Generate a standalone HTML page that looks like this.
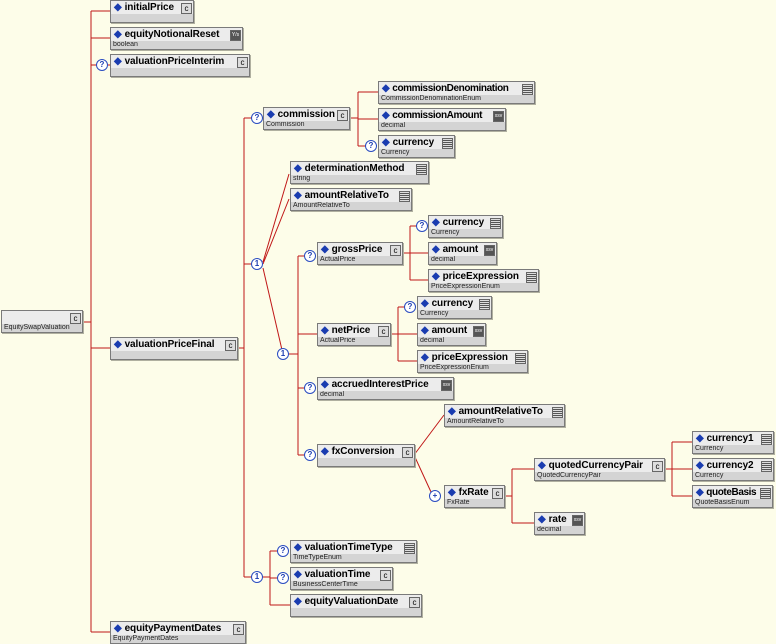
<!DOCTYPE html>
<html><head><meta charset="utf-8"><style>
body{margin:0;width:776px;height:644px;background:#fdfde9;position:relative;overflow:hidden;font-family:"Liberation Sans",sans-serif}
svg{position:absolute;left:0;top:0}
.b{position:absolute;height:21px;border:1px solid #7a7a7a;box-shadow:1px 1px 0 #b0b0a0;background:#d4d4d4}
.h{position:relative;height:13px;background:#ececec;font-weight:bold;font-size:10px;line-height:13px;white-space:nowrap;padding-left:3px;color:#000;overflow:hidden;letter-spacing:-0.1px}
.h:before{content:"\25C6";color:#1a3cb0;font-size:10px;margin-right:3px}
.r .h:before{content:"";margin:0}
.t{font-size:7px;line-height:8px;padding-left:2px;color:#222;white-space:nowrap}
.i{position:absolute;right:1px;top:2px;width:9px;height:9px;border:1px solid #666;background:#ddd;font-size:8px;line-height:9px;text-align:center;font-weight:normal;letter-spacing:0}
.e{background:repeating-linear-gradient(#ddd 0 1px,#555 1px 2px)}
.d{background:#555;color:#fff;font-size:5px}
.q{position:absolute;width:10px;height:10px;border:1px solid #2a4cc0;border-radius:50%;background:#fff;color:#1a3cb0;font-size:8px;line-height:10px;text-align:center;font-weight:bold}
</style></head><body>
<svg width="776" height="644" stroke="#c01818" stroke-width="1" fill="none">
<path d="M82 322H91M91 11V632M91 11H110M91 38H110M91 65H110M91 348H110M91 632H110"/>
<path d="M237 348H244M244 118V577M244 118H252M244 264H252M244 577H252"/>
<path d="M349 118H358M358 92V146M358 92H378M358 119H378M358 146H366"/>
<path d="M263 262L289 174M263 264L289 199M263 268L282 350"/>
<path d="M288 354H298M298 256V455M298 256H305M298 334H317M298 388H305M298 455H305"/>
<path d="M402 253H410M410 226V280M410 226H417M410 253H428M410 280H428"/>
<path d="M390 334H398M398 307V361M398 307H405M398 334H417M398 361H417"/>
<path d="M414 455L444 415M414 455L431 492"/>
<path d="M504 496H512M512 469V523M512 469H534M512 523H534"/>
<path d="M664 469H672M672 442V496M672 442H692M672 469H692M672 496H692"/>
<path d="M262 577H270M270 551V605M270 551H278M270 578H278M270 605H290"/>
</svg>

<div class="b r" style="left:1px;top:310px;width:80px"><div class="h"><span class="i">c</span></div><div class="t">EquitySwapValuation</div></div>

<div class="b" style="left:110px;top:0;width:82px"><div class="h">initialPrice<span class="i">c</span></div><div class="t"></div></div>
<div class="b" style="left:110px;top:27px;width:131px"><div class="h">equityNotionalReset<span class="i d">Y/s</span></div><div class="t">boolean</div></div>
<div class="q" style="left:96px;top:59px">?</div>
<div class="b" style="left:110px;top:54px;width:138px"><div class="h">valuationPriceInterim<span class="i">c</span></div><div class="t"></div></div>
<div class="b" style="left:110px;top:337px;width:126px"><div class="h">valuationPriceFinal<span class="i">c</span></div><div class="t"></div></div>
<div class="b" style="left:110px;top:621px;width:134px"><div class="h">equityPaymentDates<span class="i">c</span></div><div class="t">EquityPaymentDates</div></div>

<div class="q" style="left:251px;top:112px">?</div>
<div class="b" style="left:263px;top:107px;width:85px"><div class="h">commission<span class="i">c</span></div><div class="t">Commission</div></div>
<div class="b" style="left:378px;top:81px;width:155px"><div class="h" style="letter-spacing:-0.4px">commissionDenomination<span class="i e"></span></div><div class="t">CommissionDenominationEnum</div></div>
<div class="b" style="left:378px;top:108px;width:126px"><div class="h" style="letter-spacing:-0.4px">commissionAmount<span class="i d">xsv</span></div><div class="t">decimal</div></div>
<div class="q" style="left:365px;top:140px">?</div>
<div class="b" style="left:378px;top:135px;width:75px"><div class="h">currency<span class="i e"></span></div><div class="t">Currency</div></div>

<div class="q" style="left:251px;top:258px">1</div>
<div class="b" style="left:290px;top:161px;width:137px"><div class="h">determinationMethod<span class="i e"></span></div><div class="t">string</div></div>
<div class="b" style="left:290px;top:188px;width:120px"><div class="h">amountRelativeTo<span class="i e"></span></div><div class="t">AmountRelativeTo</div></div>

<div class="q" style="left:277px;top:348px">1</div>
<div class="q" style="left:304px;top:250px">?</div>
<div class="b" style="left:317px;top:242px;width:84px"><div class="h">grossPrice<span class="i">c</span></div><div class="t">ActualPrice</div></div>
<div class="q" style="left:416px;top:220px">?</div>
<div class="b" style="left:428px;top:215px;width:73px"><div class="h">currency<span class="i e"></span></div><div class="t">Currency</div></div>
<div class="b" style="left:428px;top:242px;width:67px"><div class="h">amount<span class="i d">xsv</span></div><div class="t">decimal</div></div>
<div class="b" style="left:428px;top:269px;width:109px"><div class="h">priceExpression<span class="i e"></span></div><div class="t">PriceExpressionEnum</div></div>

<div class="b" style="left:317px;top:323px;width:72px"><div class="h">netPrice<span class="i">c</span></div><div class="t">ActualPrice</div></div>
<div class="q" style="left:404px;top:301px">?</div>
<div class="b" style="left:417px;top:296px;width:73px"><div class="h">currency<span class="i e"></span></div><div class="t">Currency</div></div>
<div class="b" style="left:417px;top:323px;width:67px"><div class="h">amount<span class="i d">xsv</span></div><div class="t">decimal</div></div>
<div class="b" style="left:417px;top:350px;width:109px"><div class="h">priceExpression<span class="i e"></span></div><div class="t">PriceExpressionEnum</div></div>

<div class="q" style="left:304px;top:382px">?</div>
<div class="b" style="left:317px;top:377px;width:135px"><div class="h">accruedInterestPrice<span class="i d">xsv</span></div><div class="t">decimal</div></div>
<div class="q" style="left:304px;top:449px">?</div>
<div class="b" style="left:317px;top:444px;width:96px"><div class="h">fxConversion<span class="i">c</span></div><div class="t"></div></div>
<div class="b" style="left:444px;top:404px;width:119px"><div class="h">amountRelativeTo<span class="i e"></span></div><div class="t">AmountRelativeTo</div></div>
<div class="q" style="left:429px;top:490px">+</div>
<div class="b" style="left:444px;top:485px;width:59px"><div class="h">fxRate<span class="i">c</span></div><div class="t">FxRate</div></div>
<div class="b" style="left:534px;top:458px;width:129px"><div class="h">quotedCurrencyPair<span class="i">c</span></div><div class="t">QuotedCurrencyPair</div></div>
<div class="b" style="left:534px;top:512px;width:49px"><div class="h">rate<span class="i d">xsv</span></div><div class="t">decimal</div></div>
<div class="b" style="left:692px;top:431px;width:80px"><div class="h">currency1<span class="i e"></span></div><div class="t">Currency</div></div>
<div class="b" style="left:692px;top:458px;width:80px"><div class="h">currency2<span class="i e"></span></div><div class="t">Currency</div></div>
<div class="b" style="left:692px;top:485px;width:79px"><div class="h" style="letter-spacing:-0.4px">quoteBasis<span class="i e"></span></div><div class="t">QuoteBasisEnum</div></div>

<div class="q" style="left:251px;top:571px">1</div>
<div class="q" style="left:277px;top:545px">?</div>
<div class="b" style="left:290px;top:540px;width:125px"><div class="h">valuationTimeType<span class="i e"></span></div><div class="t">TimeTypeEnum</div></div>
<div class="q" style="left:277px;top:572px">?</div>
<div class="b" style="left:290px;top:567px;width:101px"><div class="h">valuationTime<span class="i">c</span></div><div class="t">BusinessCenterTime</div></div>
<div class="b" style="left:290px;top:594px;width:130px"><div class="h">equityValuationDate<span class="i">c</span></div><div class="t"></div></div>
</body></html>
